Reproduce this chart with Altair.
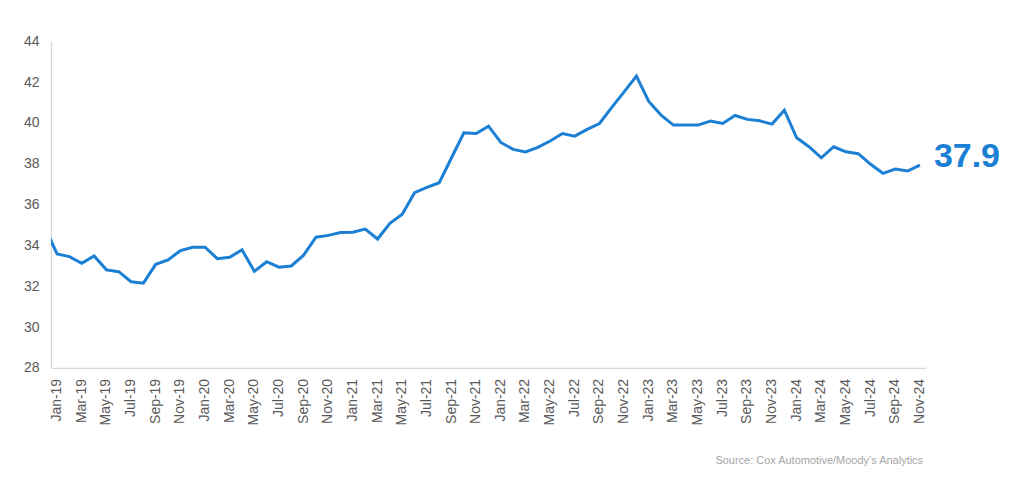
import altair as alt
import pandas as pd

# Month labels (Jan-19 .. Nov-24); Dec-18 is only partly visible at the left edge
months = ["Dec-18",
          "Jan-19", "Feb-19", "Mar-19", "Apr-19", "May-19", "Jun-19", "Jul-19", "Aug-19", "Sep-19", "Oct-19", "Nov-19", "Dec-19",
          "Jan-20", "Feb-20", "Mar-20", "Apr-20", "May-20", "Jun-20", "Jul-20", "Aug-20", "Sep-20", "Oct-20", "Nov-20", "Dec-20",
          "Jan-21", "Feb-21", "Mar-21", "Apr-21", "May-21", "Jun-21", "Jul-21", "Aug-21", "Sep-21", "Oct-21", "Nov-21", "Dec-21",
          "Jan-22", "Feb-22", "Mar-22", "Apr-22", "May-22", "Jun-22", "Jul-22", "Aug-22", "Sep-22", "Oct-22", "Nov-22", "Dec-22",
          "Jan-23", "Feb-23", "Mar-23", "Apr-23", "May-23", "Jun-23", "Jul-23", "Aug-23", "Sep-23", "Oct-23", "Nov-23", "Dec-23",
          "Jan-24", "Feb-24", "Mar-24", "Apr-24", "May-24", "Jun-24", "Jul-24", "Aug-24", "Sep-24", "Oct-24", "Nov-24"]

values = [34.88,
          33.58, 33.45, 33.12, 33.48, 32.80, 32.71, 32.22, 32.15, 33.07, 33.29, 33.74, 33.91,
          33.91, 33.35, 33.42, 33.78, 32.73, 33.20, 32.93, 32.99, 33.52, 34.40, 34.49, 34.63,
          34.64, 34.80, 34.31, 35.08, 35.52, 36.58, 36.84, 37.07, 38.29, 39.51, 39.48, 39.84,
          39.04, 38.70, 38.58, 38.80, 39.11, 39.48, 39.35, 39.68, 39.97, 40.76, 41.52, 42.29,
          41.05, 40.38, 39.89, 39.89, 39.89, 40.09, 39.97, 40.36, 40.17, 40.10, 39.94, 40.62,
          39.27, 38.83, 38.29, 38.83, 38.58, 38.49, 37.97, 37.53, 37.74, 37.64, 37.93]

index = list(range(-1, len(months) - 1))  # Jan-19 = 0

# tick labels shown on the x axis: every other month from Jan-19
tick_idx = list(range(0, 71, 2))
tick_labels = [months[i + 1] for i in tick_idx]

last_label = ["37.9"]
source_text = "Source: Cox Automotive/Moody\u2019s Analytics"

LINE = "#1b7fd4"
FONT = "Liberation Sans"
W, H = 876, 327

df = pd.DataFrame({"idx": index, "month": months, "value": values})
ticks_df = pd.DataFrame({"idx": tick_idx, "lab": tick_labels})

x_scale = alt.Scale(domain=[-0.5, 70.5], nice=False, zero=False)

x_enc = alt.X("idx:Q", scale=x_scale,
              axis=alt.Axis(labels=False, ticks=False, grid=False,
                            domainColor="#d9d9d9", domainWidth=1.3, title=None))
y_enc = alt.Y("value:Q",
              scale=alt.Scale(domain=[28, 44], nice=False, zero=False),
              axis=alt.Axis(values=list(range(28, 45, 2)), labelFontSize=14, labelColor="#595959",
                            labelFont=FONT, labelPadding=12, ticks=False, grid=False,
                            domainColor="#d9d9d9", domainWidth=1.3, title=None))

line = alt.Chart(df).mark_line(color=LINE, strokeWidth=3, clip=True, strokeJoin="miter").encode(
    x=x_enc, y=y_enc)

xlabels = alt.Chart(ticks_df).mark_text(
    angle=270, align="right", baseline="middle", fontSize=14, font=FONT, color="#595959").encode(
    x=alt.X("idx:Q", scale=x_scale), y=alt.value(H + 11), text="lab:N")

last = alt.Chart(df.tail(1).assign(lbl=last_label)).mark_text(
    align="left", baseline="middle", dx=14, dy=-8, fontSize=34, fontWeight="bold",
    font=FONT, color=LINE).encode(x="idx:Q", y="value:Q", text="lbl:N")

source = alt.Chart(pd.DataFrame({"t": [source_text]})).mark_text(
    align="right", baseline="middle", fontSize=11, font=FONT, color="#a6a6a6").encode(
    x=alt.value(873), y=alt.value(420), text="t:N")

chart = alt.layer(line, xlabels, last, source).properties(
    width=W, height=H,
    background="white",
    autosize=alt.AutoSizeParams(type="none"),
    padding={"left": 43, "top": 33, "right": 90, "bottom": 100},
).configure_view(stroke=None)

chart.save("out.html", embed_options={"renderer": "svg", "actions": False})
